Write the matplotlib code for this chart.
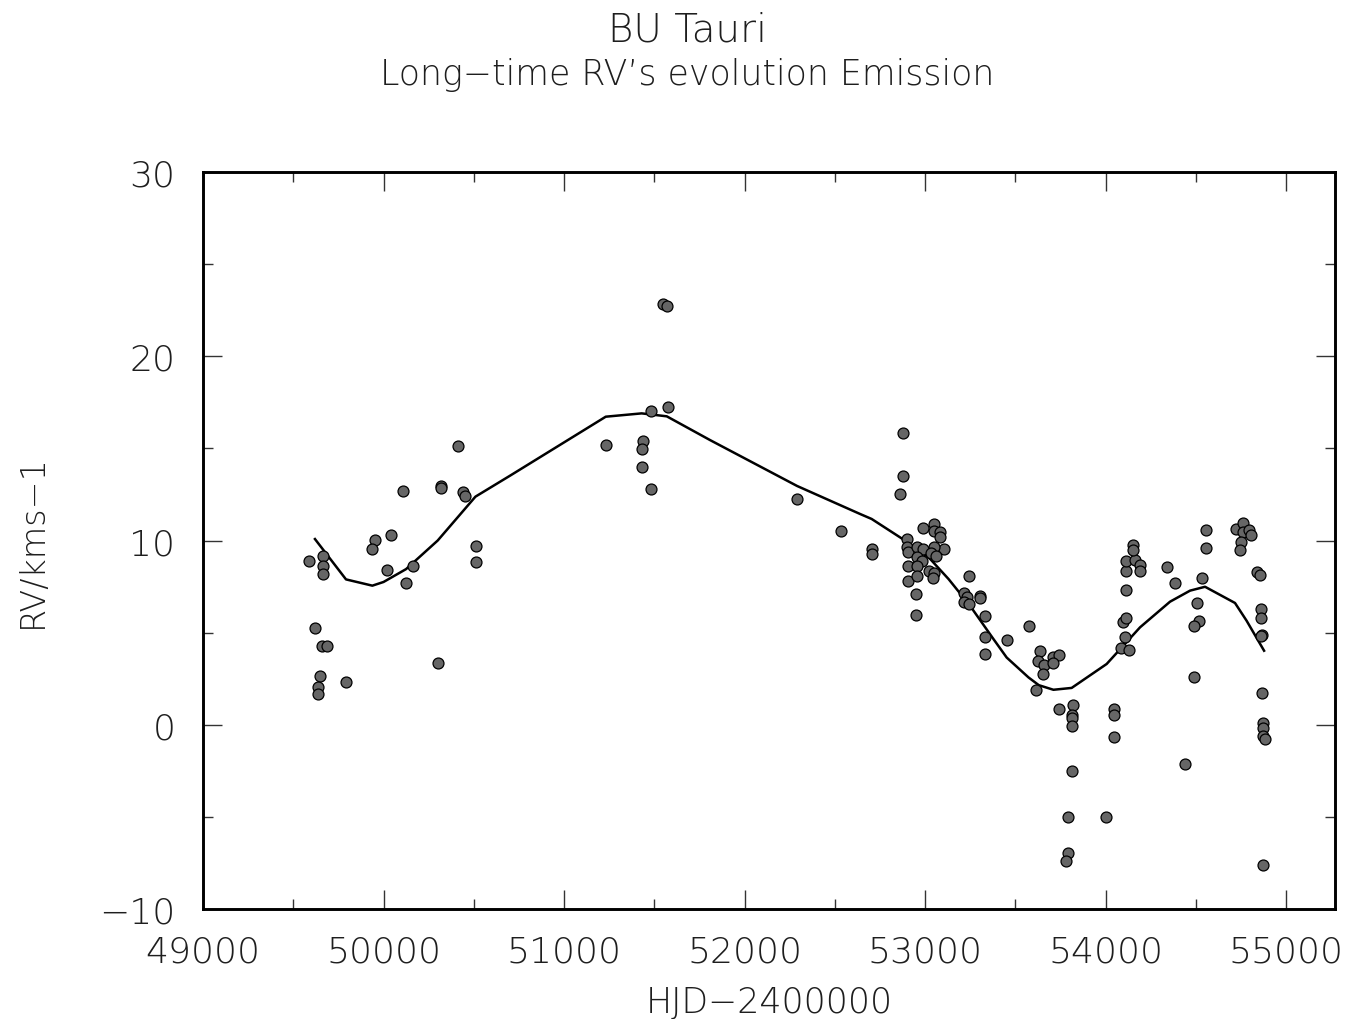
import numpy as np
import matplotlib.pyplot as plt
from matplotlib.ticker import MultipleLocator

plt.rcParams['font.family'] = ['DejaVu Sans']

# observed emission RV
hjd = [50414, 50108, 50319, 50321, 50440, 50452, 50044, 49953, 49935, 49587,
       49663, 49667, 49667, 50017, 50163, 50125, 50511, 50512, 49620, 49661,
       49685, 50302, 49648, 49790, 49639, 49639,
       51550, 51569, 51483, 51578, 51231, 51436, 51434, 51432, 51483,
       52291, 52535, 52706, 52706,
       52880, 52878, 52860, 52902, 52898, 52908, 52958, 52991, 53050, 53047,
       53084, 53084, 53106, 53047, 52991, 53031, 53061, 52953, 52981, 52908,
       52953, 53023, 53047, 53043, 52908, 52958, 52950, 52950,
       53244, 53216, 53231, 53213, 53241, 53302, 53305, 53332, 53334, 53334,
       53452, 53578, 53637, 53628, 53659, 53707, 53744, 53707, 53652,
       53615, 53744, 53818, 53812, 53812, 53812, 53814, 53791, 54001, 53792,
       53781, 54047, 54047, 54049, 54086, 54127, 54108, 54099, 54114, 54115,
       54115, 54112, 54163, 54188, 54188, 54152, 54154, 54339, 54387, 54536,
       54507, 54518, 54490, 54490, 54442,
       54557, 54557, 54723, 54760, 54760, 54797, 54805, 54751, 54747, 54838,
       54856, 54860, 54860, 54865, 54862, 54868, 54871, 54871, 54871, 54882,
       54874]
rv = [15.14, 12.67, 12.95, 12.85, 12.62, 12.42, 10.32, 10.04, 9.52, 8.89,
      9.17, 8.62, 8.18, 8.41, 8.60, 7.71, 9.68, 8.81, 5.24, 4.27,
      4.27, 3.33, 2.66, 2.34, 2.03, 1.67,
      22.84, 22.71, 17.01, 17.26, 15.20, 15.38, 14.97, 14.01, 12.78,
      12.25, 10.52, 9.54, 9.27,
      15.83, 13.48, 12.52, 10.08, 9.63, 9.36, 9.63, 10.66, 10.88, 10.53,
      10.44, 10.21, 9.54, 9.63, 9.54, 9.32, 9.14, 9.09, 8.90, 8.63,
      8.60, 8.34, 8.24, 7.96, 7.78, 8.09, 7.10, 5.96,
      8.05, 7.15, 6.92, 6.68, 6.55, 7.01, 6.86, 5.88, 4.78, 3.86,
      4.60, 5.38, 4.02, 3.48, 3.26, 3.66, 3.79, 3.35, 2.74,
      1.89, 0.87, 1.10, 0.54, 0.36, -0.07, -2.51, -4.99, -4.99, -6.97,
      -7.41, 0.84, 0.54, -0.67, 4.15, 4.07, 4.74, 5.56, 5.79, 7.31,
      8.33, 8.90, 8.94, 8.67, 8.36, 9.75, 9.48, 8.58, 7.68, 7.96,
      6.59, 5.61, 5.38, 2.58, -2.15,
      10.59, 9.58, 10.64, 10.95, 10.44, 10.59, 10.30, 9.90, 9.48, 8.27,
      8.12, 6.26, 5.77, 4.88, 4.80, 1.74, 0.07, -0.16, -0.63, -0.77,
      -7.61]

# smoothed curve
fit_x = [49620, 49792, 49938, 50000, 50125, 50300, 50509, 50701, 51231, 51430,
         51569, 51809, 52291, 52640, 52704, 52898, 53028, 53130, 53249, 53379,
         53452, 53573, 53630, 53711, 53812, 54006, 54191, 54357, 54468, 54551,
         54717, 54781, 54878]
fit_y = [10.08, 7.89, 7.55, 7.75, 8.45, 10.0, 12.38, 13.52, 16.72, 16.9,
         16.74, 15.45, 12.96, 11.44, 11.17, 9.94, 9.0, 7.91, 6.46, 4.65,
         3.65, 2.57, 2.15, 1.9, 2.0, 3.30, 5.29, 6.68, 7.28, 7.49,
         6.61, 5.65, 4.02]

txt = '#1e1e1e'
fig = plt.figure(figsize=(13.5, 10.2), dpi=100)
ax = fig.add_axes([0.1504, 0.1078, 0.8385, 0.7226])

ax.plot(fit_x, fit_y, color='black', lw=1.8, zorder=2)
ax.scatter(hjd, rv, s=62, c='#666666', edgecolors='black', linewidths=0.9, zorder=3)

ax.set_xlim(49000, 55271)
ax.set_ylim(-10, 30)
ax.xaxis.set_major_locator(MultipleLocator(1000))
ax.xaxis.set_minor_locator(MultipleLocator(500))
ax.yaxis.set_major_locator(MultipleLocator(10))
ax.yaxis.set_minor_locator(MultipleLocator(5))
ax.tick_params(which='both', direction='in', top=True, right=True,
               labelsize=26, labelcolor=txt, width=1.0, color='#333333')
ax.tick_params(which='major', length=14)
ax.tick_params(which='minor', length=7)
ax.tick_params(axis='x', which='major', pad=18)
ax.tick_params(axis='y', which='major', pad=20)
for s in ax.spines.values():
    s.set_linewidth(2.1)

ax.set_yticks([-10, 0, 10, 20, 30])
ax.set_yticklabels(['\u221210', '0', '10', '20', '30'])
ax.set_xticks([49000, 50000, 51000, 52000, 53000, 54000, 55000])
ax.set_xticklabels(['49000', '50000', '51000', '52000', '53000', '54000', '55000'])
for lab in ax.get_xticklabels() + ax.get_yticklabels():
    lab.set_fontweight('light')

ax.set_xlabel('HJD\u22122400000', fontsize=25, color=txt, labelpad=12, fontweight='light')
ax.set_ylabel('RV/kms\u22121', fontsize=24, color=txt, labelpad=36, fontweight='light')

fig.text(0.509, 0.970, 'BU Tauri', ha='center', va='center', fontsize=28,
         color=txt, fontweight='light')
fig.text(0.509, 0.926, 'Long\u2212time RV\u2019s evolution Emission', ha='center',
         va='center', fontsize=25, color=txt, fontweight='light')

fig.savefig('out.png', dpi=100)
